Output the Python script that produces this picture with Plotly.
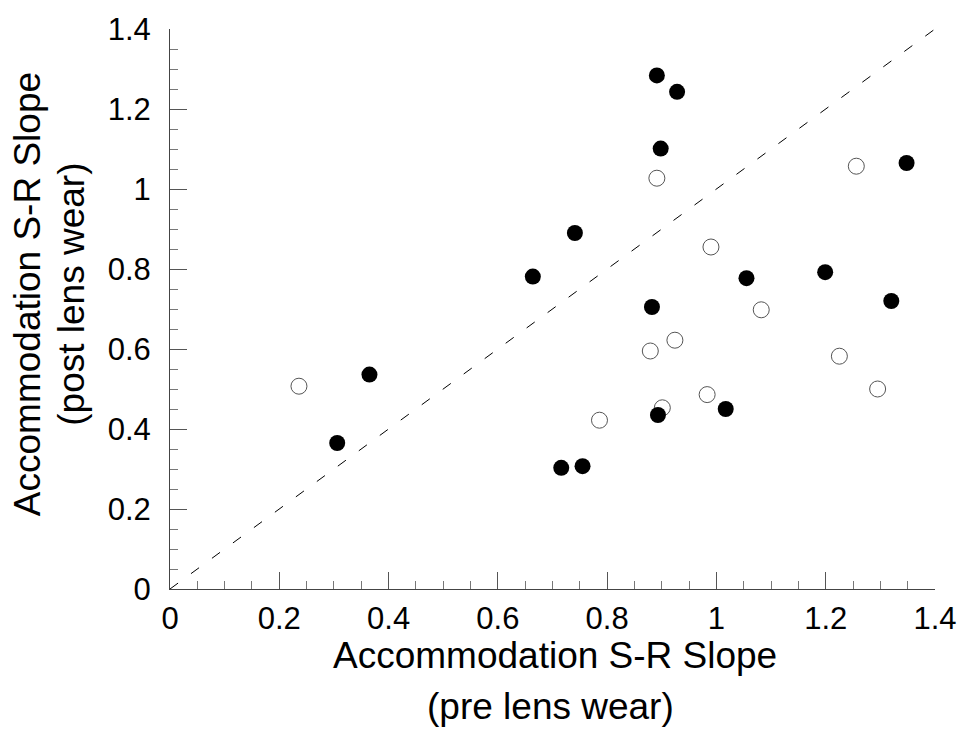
import plotly.graph_objects as go

# Filled circles (pre, post)
filled_pre = [0.891, 0.928, 0.898, 1.348, 0.741, 0.664, 1.199, 1.055, 0.882, 1.320,
              0.365, 0.306, 0.893, 1.017, 0.716, 0.755]
filled_post = [1.284, 1.243, 1.101, 1.065, 0.890, 0.781, 0.792, 0.777, 0.705, 0.720,
               0.536, 0.365, 0.435, 0.450, 0.303, 0.307]

# Open circles (pre, post)
open_pre = [0.236, 0.891, 0.990, 1.256, 1.082, 0.879, 0.924, 1.225, 1.295, 0.983, 0.901, 0.786]
open_post = [0.507, 1.027, 0.855, 1.057, 0.698, 0.595, 0.622, 0.582, 0.500, 0.486, 0.453, 0.422]

# Line of equality
unity = [0, 1.4]

tick_vals = [0, 0.2, 0.4, 0.6, 0.8, 1.0, 1.2, 1.4]
tick_text = ["0", "0.2", "0.4", "0.6", "0.8", "1", "1.2", "1.4"]

x_title = ["Accommodation S-R Slope", "(pre lens wear)"]
y_title = ["Accommodation S-R Slope", "(post lens wear)"]

FONT = "Arial, Liberation Sans, sans-serif"

fig = go.Figure()
fig.add_trace(go.Scatter(x=unity, y=unity, mode="lines",
                         line=dict(color="black", width=1, dash="10px,16px"),
                         hoverinfo="skip", showlegend=False))
fig.add_trace(go.Scatter(x=open_pre, y=open_post, mode="markers",
                         marker=dict(size=16, color="white",
                                     line=dict(color="#555555", width=1)),
                         showlegend=False))
fig.add_trace(go.Scatter(x=filled_pre, y=filled_post, mode="markers",
                         marker=dict(size=16, color="black",
                                     line=dict(color="black", width=0)),
                         showlegend=False))

axis_common = dict(
    range=[0, 1.4], tickvals=tick_vals, ticktext=tick_text,
    showgrid=False, zeroline=False, showline=True, linecolor="#444444", linewidth=1,
    ticks="inside", ticklen=17, tickwidth=1, tickcolor="#555555",
    tickfont=dict(family=FONT, size=31, color="black"),
    minor=dict(dtick=0.05, ticks="inside", ticklen=8, tickcolor="#777777", tickwidth=1,
               showgrid=False),
)
fig.update_xaxes(**axis_common, ticklabelstandoff=2)
fig.update_yaxes(**axis_common, ticklabelstandoff=12)

TF = dict(family=FONT, size=37, color="black")
annotations = [
    dict(text=x_title[0], x=0.503, y=-0.118, xref="paper", yref="paper",
         showarrow=False, font=TF, xanchor="center", yanchor="middle"),
    dict(text=x_title[1], x=0.498, y=-0.209, xref="paper", yref="paper",
         showarrow=False, font=TF, xanchor="center", yanchor="middle"),
    dict(text=y_title[0], x=-0.186, y=0.526, xref="paper", yref="paper",
         showarrow=False, font=TF, textangle=-90, xanchor="center", yanchor="middle"),
    dict(text=y_title[1], x=-0.129, y=0.526, xref="paper", yref="paper",
         showarrow=False, font=TF, textangle=-90, xanchor="center", yanchor="middle"),
]

fig.update_layout(
    width=969, height=741,
    margin=dict(l=170, r=31, t=20, b=152),
    plot_bgcolor="white", paper_bgcolor="white",
    annotations=annotations,
    showlegend=False,
)

fig.write_html("out.html")
